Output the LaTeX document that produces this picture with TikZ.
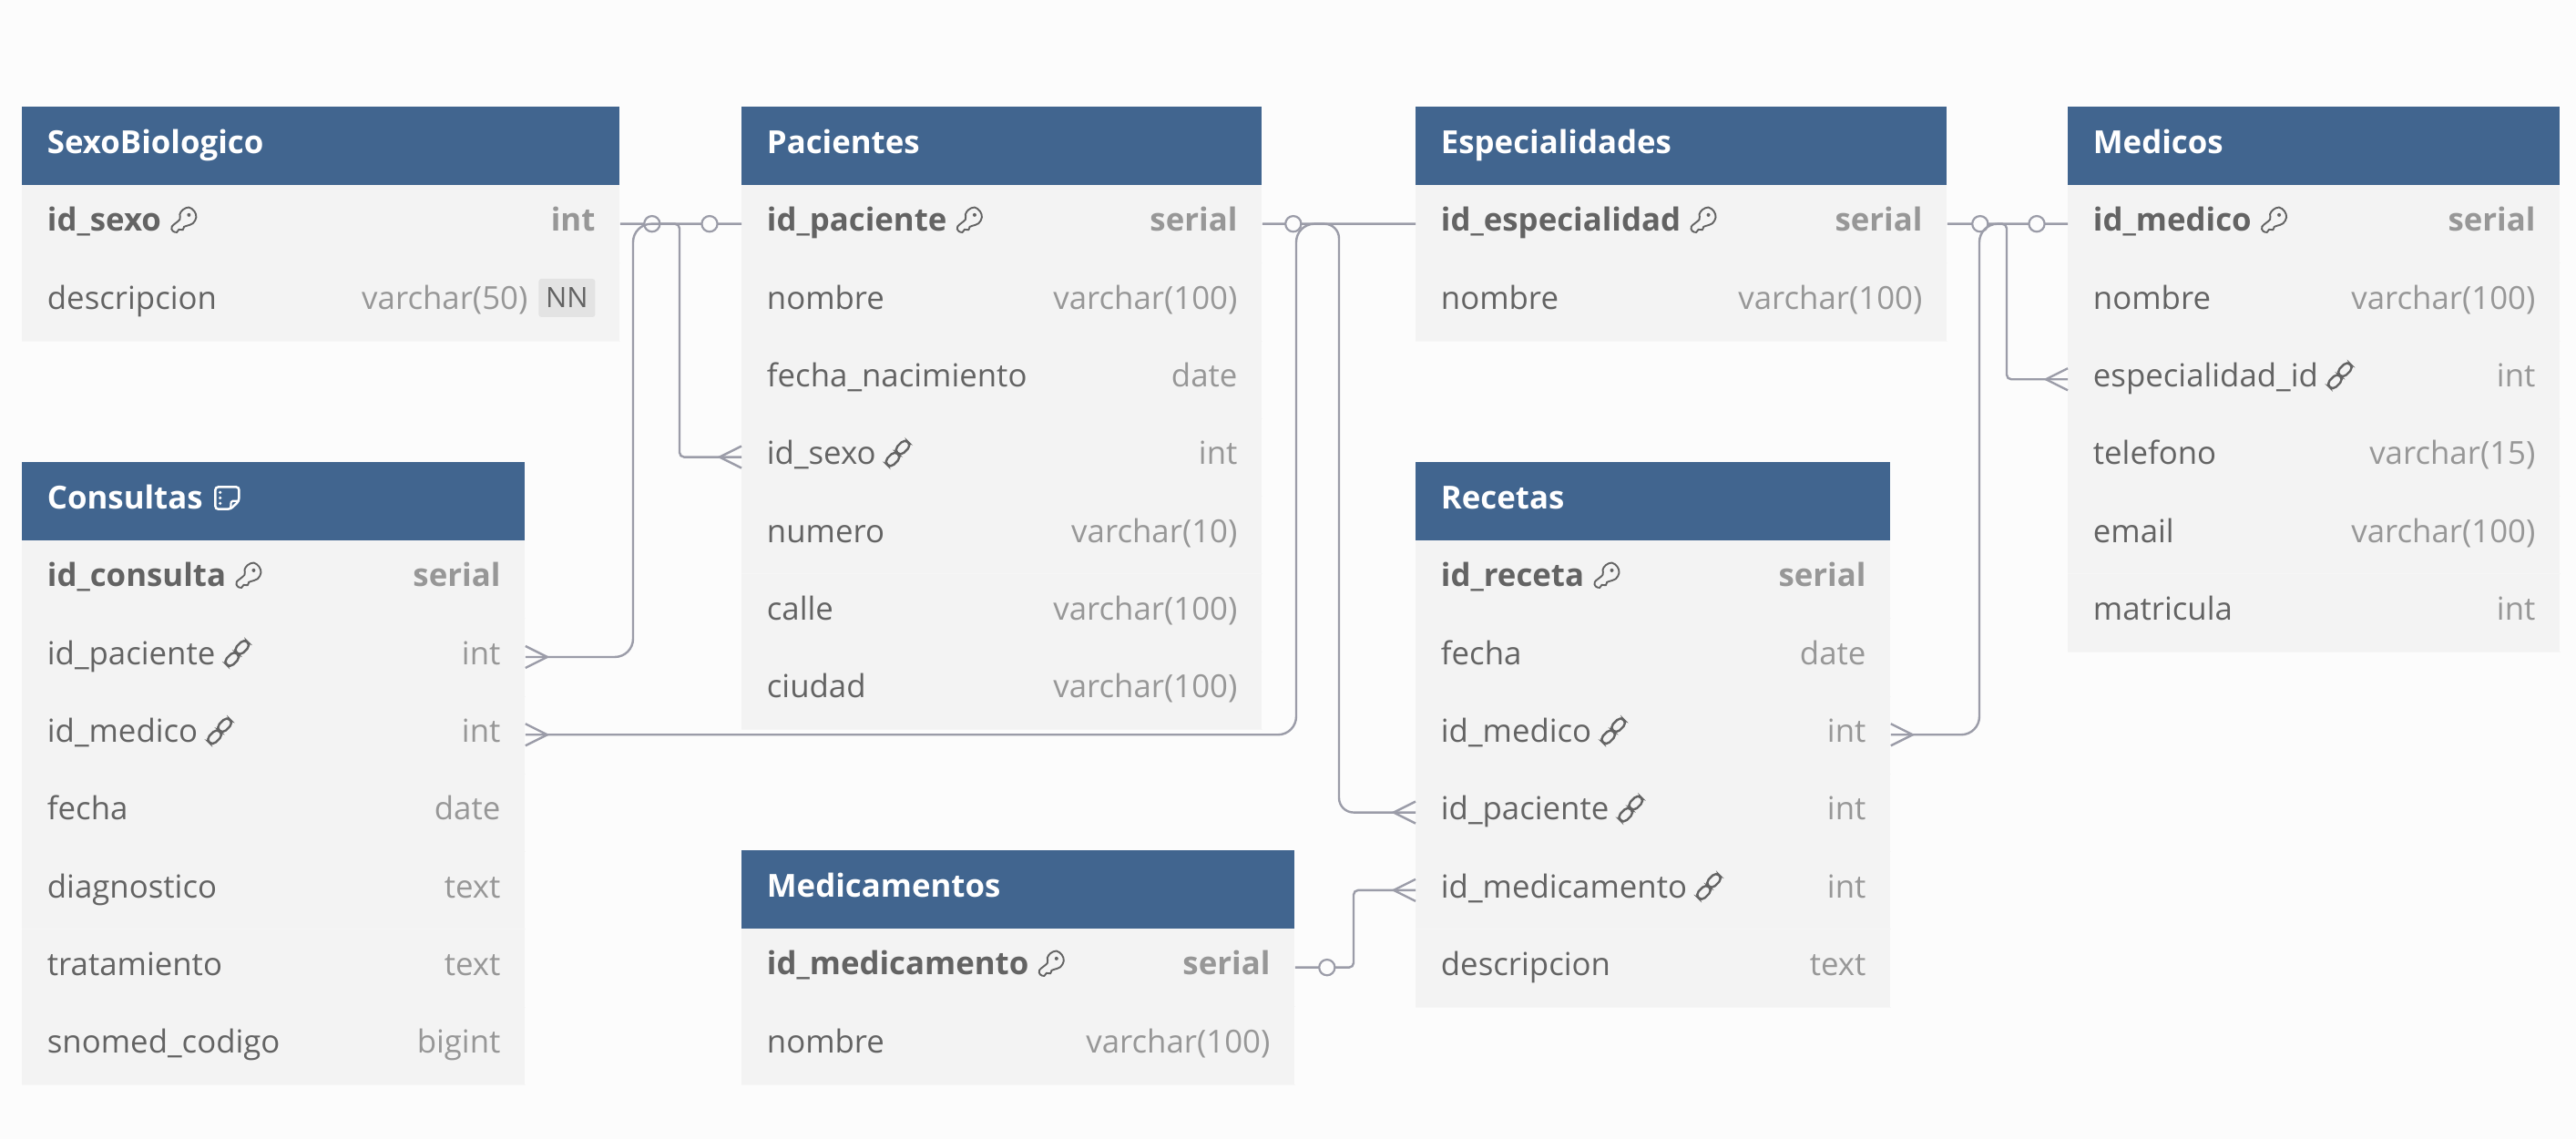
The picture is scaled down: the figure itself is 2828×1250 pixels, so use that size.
\documentclass[tikz,border=0pt]{standalone}
\usepackage{fontspec}
\setmainfont{Open Sans}
\definecolor{bgc}{HTML}{FCFCFC}
\definecolor{headc}{HTML}{41658F}
\definecolor{bodyc}{HTML}{F3F3F3}
\definecolor{sepc}{HTML}{F6F6F6}
\definecolor{namec}{HTML}{636363}
\definecolor{typec}{HTML}{979797}
\definecolor{linec}{HTML}{9B9CA8}
\definecolor{nnc}{HTML}{E3E3E3}
\newcommand\fs{\fontsize{17.4}{20}\selectfont}
\newcommand\hs{\fontsize{17.4}{20}\selectfont\bfseries}
\tikzset{
  headbox/.style={anchor=north west,fill=headc,inner sep=0pt,minimum height=42.8pt},
  rowbox/.style={anchor=north west,fill=bodyc,inner sep=0pt,minimum height=42.65pt},
  titletext/.style={anchor=base west,inner sep=0pt,text=white,font=\hs},
  fieldtext/.style={anchor=base west,inner sep=0pt,text=namec,font=\fs},
  typetext/.style={anchor=base east,inner sep=0pt,text=typec,font=\fs},
  pktext/.style={anchor=base west,inner sep=0pt,text=namec,font=\fs\bfseries},
  pktype/.style={anchor=base east,inner sep=0pt,text=typec,font=\fs\bfseries},
  conn/.style={draw=linec,line width=1.2pt},
  zerocirc/.style={circle,draw=linec,fill=bgc,line width=1.1pt,inner sep=0pt,minimum size=8.6pt},
  nnbadge/.style={anchor=east,fill=nnc,rounded corners=1.5pt,text=namec,font=\fontsize{15.4}{18}\selectfont,inner sep=0pt,
    minimum width=31pt,minimum height=21pt},
  iconline/.style={draw=namec,line width=0.95pt},
}
% table header: name, x, y, width, title
\newcommand\thead[5]{%
  \node[headbox,minimum width=#4*0.5pt] (#1) at (#2,#3) {};
  \node[titletext] (#1-title) at ([shift={(27.5,8.5)}]#1.west) {#5};
  \gdef\rx{#2}\gdef\rw{#4}%
  \pgfmathsetmacro\tmpy{#3+85.6}\global\let\ry\tmpy
}
% body row: name, label, type, text style, type style
\newcommand\trow[5]{%
  \node[rowbox,minimum width=\rw*0.5pt] (#1) at (\rx,\ry) {};
  \draw[sepc,line width=0.5pt] (#1.south west) -- (#1.south east);
  \node[#4] (#1-n) at ([shift={(27.5,8.2)}]#1.west) {#2};
  \node[#5] (#1-t) at ([shift={(-27,8.2)}]#1.east) {#3};
  \pgfmathsetmacro\tmpy{\ry+85.3}\global\let\ry\tmpy
}
\newcommand\frow[3]{\trow{#1}{#2}{#3}{fieldtext}{typetext}}
\newcommand\prow[3]{\trow{#1}{#2}{#3}{pktext}{pktype}\keyicon{#1-n}}
\newcommand\lrow[3]{\trow{#1}{#2}{#3}{fieldtext}{typetext}\linkicon{#1-n}}
\newcommand\keyicon[1]{%
  \begin{scope}[shift={(#1.base east)},x=0.16667pt,y=-0.16667pt,shift={(10,-101)}]
    \draw[iconline] plot[smooth cycle,tension=0.6] coordinates {(60,30)(80,22)(98,35)(104,55)(93,75)(72,83)(64,86)(60,96)(47,95)(40,104)(27,100)(24,85)(50,62)(50,45)};
    \fill[namec] (80,47) circle (6);
  \end{scope}}
\newcommand\linkicon[1]{%
  \begin{scope}[shift={(#1.base east)},x=0.16667pt,y=-0.16667pt,shift={(-2,-103)}]
    \draw[iconline,line width=1.2pt,rounded corners=2.6pt,shift={(89,47)},rotate=45] (-25,-15) rectangle (25,15);
    \draw[iconline,line width=1.2pt,rounded corners=2.6pt,shift={(56,86)},rotate=45] (-25,-15) rectangle (25,15);
  \end{scope}}
\newcommand\noteicon[1]{%
  \begin{scope}[shift={(#1.base east)},x=0.16667pt,y=-0.16667pt,shift={(16,-97)}]
    \draw[white,line width=1.25pt,rounded corners=1.6pt] (24,24) -- (102,24) -- (102,70) -- (74,97) -- (24,97) -- cycle;
    \draw[white,line width=1.1pt,rounded corners=0.8pt] (102,70) -- (76,70) -- (74,97);
    \fill[white] (40,42) circle (5) (40,60) circle (5) (40,78) circle (5);
  \end{scope}}
% crow's foot on a table edge: anchor, direction (+1 right, -1 left)
\newcommand\crow[2]{%
  \draw[conn,shift={(#1)}] (0,-12) -- (#2*24,0) -- (0,12);}
\begin{document}
\begin{tikzpicture}[x=0.5pt,y=-0.5pt]
\useasboundingbox (0,0) rectangle (2828,1250);
\fill[bgc] (0,0) rectangle (2828,1250);

% SexoBiologico
\thead{sex}{24}{117}{656}{SexoBiologico}
\prow{sex1}{id\_sexo}{int}
\frow{sex2}{descripcion}{}
\node[typetext] (sex2-ty) at ([shift={(-101,8.2)}]sex2.east) {varchar(50)};
\node[nnbadge] (sex2-nn) at ([shift={(-27,-4)}]sex2.east) {NN};

% Pacientes
\thead{pac}{814}{117}{571}{Pacientes}
\prow{pac1}{id\_paciente}{serial}
\frow{pac2}{nombre}{varchar(100)}
\frow{pac3}{fecha\_nacimiento}{date}
\lrow{pac4}{id\_sexo}{int}
\frow{pac5}{numero}{varchar(10)}
\frow{pac6}{calle}{varchar(100)}
\frow{pac7}{ciudad}{varchar(100)}

% Especialidades
\thead{esp}{1554}{117}{583}{Especialidades}
\prow{esp1}{id\_especialidad}{serial}
\frow{esp2}{nombre}{varchar(100)}

% Medicos
\thead{med}{2270}{117}{540}{Medicos}
\prow{med1}{id\_medico}{serial}
\frow{med2}{nombre}{varchar(100)}
\lrow{med3}{especialidad\_id}{int}
\frow{med4}{telefono}{varchar(15)}
\frow{med5}{email}{varchar(100)}
\frow{med6}{matricula}{int}

% Consultas
\thead{con}{24}{507}{552}{Consultas}
\noteicon{con-title}
\prow{con1}{id\_consulta}{serial}
\lrow{con2}{id\_paciente}{int}
\lrow{con3}{id\_medico}{int}
\frow{con4}{fecha}{date}
\frow{con5}{diagnostico}{text}
\frow{con6}{tratamiento}{text}
\frow{con7}{snomed\_codigo}{bigint}

% Recetas
\thead{rec}{1554}{507}{521}{Recetas}
\prow{rec1}{id\_receta}{serial}
\frow{rec2}{fecha}{date}
\lrow{rec3}{id\_medico}{int}
\lrow{rec4}{id\_paciente}{int}
\lrow{rec5}{id\_medicamento}{int}
\frow{rec6}{descripcion}{text}

% Medicamentos
\thead{mdc}{814}{933}{607}{Medicamentos}
\prow{mdc1}{id\_medicamento}{serial}
\frow{mdc2}{nombre}{varchar(100)}

% routing columns
\coordinate (vsex) at (746,0);
\coordinate (vpac) at (695,0);
\coordinate (vcon) at (1423,0);
\coordinate (vrec) at (1470,0);
\coordinate (vesp) at (2203,0);
\coordinate (vmed) at (2173,0);
\coordinate (vmdc) at (1486,0);

% SexoBiologico -- Pacientes.id_sexo
\draw[conn,rounded corners=2.5pt] (sex1.east) -- (vsex |- sex1.east) -- (vsex |- pac4.west) -- (pac4.west);
\crow{pac4.west}{-1}
\node[zerocirc] (z1) at ([xshift=35*0.5pt]sex1.east) {};
% Pacientes -- Consultas.id_paciente
\draw[conn,rounded corners=10pt] (pac1.west) -- (vpac |- pac1.west) -- (vpac |- con2.east) -- (con2.east);
\crow{con2.east}{1}
\node[zerocirc] (z2) at ([xshift=-35*0.5pt]pac1.west) {};
% Pacientes -- Recetas.id_paciente
\draw[conn,rounded corners=8pt] (pac1.east) -- (vrec |- pac1.east) -- (vrec |- rec4.west) -- (rec4.west);
\crow{rec4.west}{-1}
\node[zerocirc] (z3) at ([xshift=34*0.5pt]pac1.east) {};
% Especialidades -- Consultas.id_medico
\draw[conn,rounded corners=10pt] (esp1.west) -- (vcon |- esp1.west) -- (vcon |- con3.east) -- (con3.east);
\crow{con3.east}{1}
% Especialidades -- Medicos.especialidad_id
\draw[conn,rounded corners=2.5pt] (esp1.east) -- (vesp |- esp1.east) -- (vesp |- med3.west) -- (med3.west);
\crow{med3.west}{-1}
\node[zerocirc] (z4) at ([xshift=36*0.5pt]esp1.east) {};
% Medicos -- Recetas.id_medico
\draw[conn,rounded corners=10pt] (med1.west) -- (vmed |- med1.west) -- (vmed |- rec3.east) -- (rec3.east);
\crow{rec3.east}{1}
\node[zerocirc] (z5) at ([xshift=-34*0.5pt]med1.west) {};
% Medicamentos -- Recetas.id_medicamento
\draw[conn,rounded corners=2.5pt] (mdc1.east) -- (vmdc |- mdc1.east) -- (vmdc |- rec5.west) -- (rec5.west);
\crow{rec5.west}{-1}
\node[zerocirc] (z6) at ([xshift=35*0.5pt]mdc1.east) {};
\end{tikzpicture}
\end{document}
